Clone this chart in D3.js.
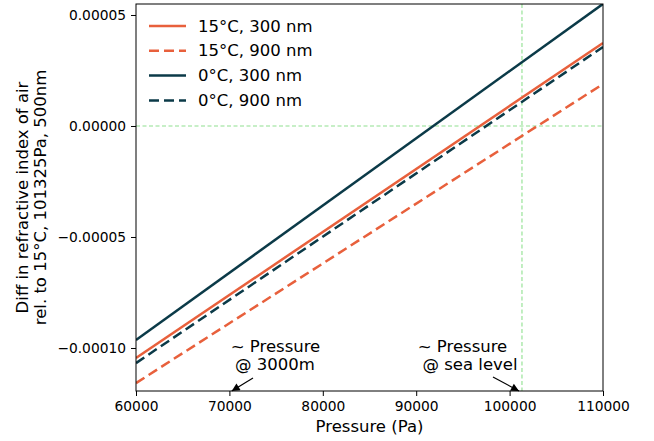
<!DOCTYPE html>
<html>
<head>
<meta charset="utf-8">
<script src="https://cdn.jsdelivr.net/npm/d3@7"></script>
<style>
  body { margin: 0; background: #fff; }
  text { font-family: "DejaVu Sans", sans-serif; }
</style>
</head>
<body>
<div id="chart"></div>
<script>
// Data
const pressure = [60000, 110000]
const diff15_300 = [-0.0001045, 0.0000374]
const diff15_900 = [-0.0001158, 0.0000189]
const diff0_300 = [-0.0000964, 0.0000550]
const diff0_900 = [-0.0001068, 0.0000356]

const seriesNames = ["15°C, 300 nm", "15°C, 900 nm", "0°C, 300 nm", "0°C, 900 nm"]
const seriesValues = [diff15_300, diff15_900, diff0_300, diff0_900]

const xTicks = [60000, 70000, 80000, 90000, 100000, 110000]
const yTicks = [0.00005, 0, -0.00005, -0.0001]

const seaLevel = 101325
const p3000 = 70250

// Dimensions
let dims = {
    width: 654,
    height: 441,
    margin: { top: 4, right: 51, bottom: 50, left: 136 },
}
dims.boundedWidth = dims.width - dims.margin.left - dims.margin.right
dims.boundedHeight = dims.height - dims.margin.top - dims.margin.bottom

const orange = "#e8603c"
const teal = "#0b3a48"
const green = "#8fe08f"
const colors = [orange, orange, teal, teal]
const dashes = [null, "10,5", null, "10,5"]

const xScale = d3.scaleLinear()
    .domain([60000, 110000])
    .range([0, dims.boundedWidth])

const yScale = d3.scaleLinear()
    .domain([-0.00011937, 0.00005495])
    .range([dims.boundedHeight, 0])

const svg = d3.select("#chart").append("svg")
    .attr("width", dims.width)
    .attr("height", dims.height)

const bounds = svg.append("g")
    .attr("transform", `translate(${dims.margin.left},${dims.margin.top})`)

bounds.append("clipPath").attr("id", "clip")
    .append("rect")
    .attr("width", dims.boundedWidth)
    .attr("height", dims.boundedHeight)

const plot = bounds.append("g").attr("clip-path", "url(#clip)")

// reference lines
plot.append("line")
    .attr("x1", 0).attr("x2", dims.boundedWidth)
    .attr("y1", yScale(0)).attr("y2", yScale(0))
    .attr("stroke", green).attr("stroke-width", 1.1)
    .attr("stroke-dasharray", "4,2.5")

plot.append("line")
    .attr("x1", xScale(seaLevel)).attr("x2", xScale(seaLevel))
    .attr("y1", 0).attr("y2", dims.boundedHeight)
    .attr("stroke", green).attr("stroke-width", 1.1)
    .attr("stroke-dasharray", "4,2.5")

const lineGen = d3.line()
    .x((d, i) => xScale(pressure[i]))
    .y(d => yScale(d))

seriesValues.forEach((vals, i) => {
    plot.append("path")
        .attr("d", lineGen(vals))
        .attr("fill", "none")
        .attr("stroke", colors[i])
        .attr("stroke-width", 2.5)
        .attr("stroke-dasharray", dashes[i])
})

// axes
const xAxis = bounds.append("g")
    .attr("transform", `translate(0,${dims.boundedHeight})`)
    .call(d3.axisBottom(xScale).tickValues(xTicks).tickSize(5).tickPadding(5).tickFormat(d3.format("d")))

const yAxis = bounds.append("g")
    .call(d3.axisLeft(yScale).tickValues(yTicks).tickSize(5).tickPadding(5).tickFormat(d3.format(".5f")))

;[xAxis, yAxis].forEach(ax => {
    ax.select(".domain").remove()
    ax.selectAll("line").attr("stroke", "#000").attr("stroke-width", 1)
    ax.selectAll("text").attr("font-size", "13.8px").attr("fill", "#000")
        .style("font-family", "DejaVu Sans, sans-serif")
})

// frame
bounds.append("rect")
    .attr("width", dims.boundedWidth)
    .attr("height", dims.boundedHeight)
    .attr("fill", "none")
    .attr("stroke", "#000")
    .attr("stroke-width", 1)

// axis labels
svg.append("text")
    .attr("x", dims.margin.left + dims.boundedWidth / 2)
    .attr("y", 432)
    .attr("text-anchor", "middle")
    .attr("font-size", "16.5px")
    .text("Pressure (Pa)")

const yMid = dims.margin.top + dims.boundedHeight / 2
const yLabel = svg.append("text")
    .attr("transform", `translate(0,${yMid}) rotate(-90)`)
    .attr("text-anchor", "middle")
    .attr("font-size", "16.5px")
yLabel.append("tspan").attr("x", 0).attr("y", 28).text("Diff in refractive index of air")
yLabel.append("tspan").attr("x", 0).attr("y", 46).text("rel. to 15°C, 101325Pa, 500nm")

// legend
const legend = svg.append("g").attr("transform", "translate(149,26)")
seriesNames.forEach((name, i) => {
    const row = legend.append("g").attr("transform", `translate(0,${i * 24.8})`)
    row.append("line")
        .attr("x1", 0).attr("x2", 37)
        .attr("stroke", colors[i])
        .attr("stroke-width", 2.5)
        .attr("stroke-dasharray", dashes[i])
    row.append("text")
        .attr("x", 49).attr("y", 5.5)
        .attr("font-size", "16.5px")
        .text(name)
})

// annotations
svg.append("defs").append("marker")
    .attr("id", "head")
    .attr("viewBox", "0 0 10 10")
    .attr("refX", 10).attr("refY", 5)
    .attr("markerWidth", 9).attr("markerHeight", 8)
    .attr("markerUnits", "userSpaceOnUse")
    .attr("orient", "auto")
    .append("path").attr("d", "M0,0 L10,5 L0,10 Z").attr("fill", "#000")

const annots = [
    { lines: ["~ Pressure", "@ 3000m"], cx: [275.5, 275], tail: [253, 378], p: p3000 },
    { lines: ["~ Pressure", "@ sea level"], cx: [462.5, 470], tail: [493, 377], p: seaLevel - 320 },
]
annots.forEach(a => {
    a.lines.forEach((t, j) => {
        svg.append("text")
            .attr("x", a.cx[j])
            .attr("y", 352 + j * 17.5)
            .attr("text-anchor", "middle")
            .attr("font-size", "16.5px")
            .text(t)
    })
    svg.append("line")
        .attr("x1", a.tail[0]).attr("y1", a.tail[1])
        .attr("x2", dims.margin.left + xScale(a.p)).attr("y2", dims.margin.top + dims.boundedHeight)
        .attr("stroke", "#000").attr("stroke-width", 1.2)
        .attr("marker-end", "url(#head)")
})
</script>
</body>
</html>
